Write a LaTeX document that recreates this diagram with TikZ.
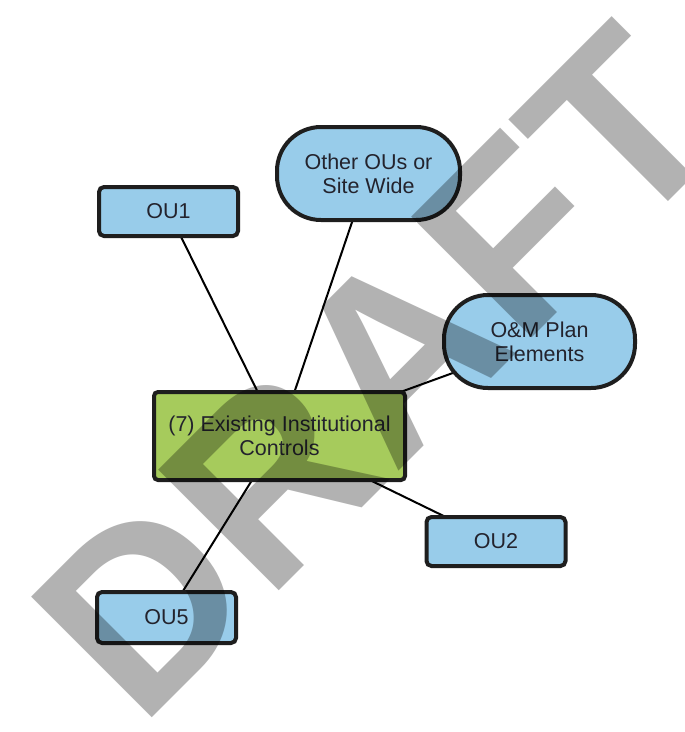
\documentclass[tikz,border=0pt]{standalone}
\usepackage{fontspec}
\setmainfont{Liberation Sans}
\usetikzlibrary{backgrounds}
\definecolor{boxblue}{RGB}{152,204,234}
\definecolor{boxgreen}{RGB}{166,203,92}
\definecolor{edgedark}{RGB}{30,30,30}
\definecolor{txt}{RGB}{35,35,45}
\definecolor{wm}{RGB}{178,178,178}
\tikzset{
  basebox/.style={draw=edgedark, line width=4pt, inner sep=0pt, align=center,
    text=txt, font=\fontsize{21.5}{24}\selectfont},
  ourect/.style={basebox, fill=boxblue, rounded corners=5pt,
    minimum width=139pt, minimum height=49pt},
  pill/.style={basebox, fill=boxblue, rounded corners=44pt,
    minimum height=93pt},
  mainbox/.style={basebox, fill=boxgreen, rounded corners=4pt,
    minimum width=251pt, minimum height=88pt},
  link/.style={line width=2pt, draw=black}
}
\begin{document}
\begin{tikzpicture}[x=1pt,y=-1pt]
\useasboundingbox (0,0) rectangle (685,732);
\node[ourect] (ou1) at (168.5,211.5) {OU1};
\node[pill, minimum width=183pt] (other) at (368.5,173.5) {Other OUs or\\Site Wide};
\node[pill, minimum width=191pt] (om) at (539.5,341.5) {O\&M Plan\\Elements};
\node[mainbox] (main) at (279.5,436) {(7) Existing Institutional\\Controls};
\node[ourect] (ou2) at (496,541.5) {OU2};
\node[ourect, minimum height=51pt] (ou5) at (166.5,617.5) {OU5};
\begin{pgfonlayer}{background}
\fill[white] (0,0) rectangle (685,732);
\draw[link] (ou1.center) -- (main.center);
\draw[link] (other.center) -- (main.center);
\draw[link] (om.center) -- (main.center);
\draw[link] (ou2.center) -- (main.center);
\draw[link] (ou5.center) -- (main.center);
\end{pgfonlayer}
\begin{scope}[blend mode=multiply]
\node[rotate=45, anchor=base, inner sep=0pt, text=wm,
  font=\bfseries\fontsize{248}{248}\selectfont] (wmark) at (438,432) {DRAFT};
\end{scope}
\end{tikzpicture}
\end{document}
